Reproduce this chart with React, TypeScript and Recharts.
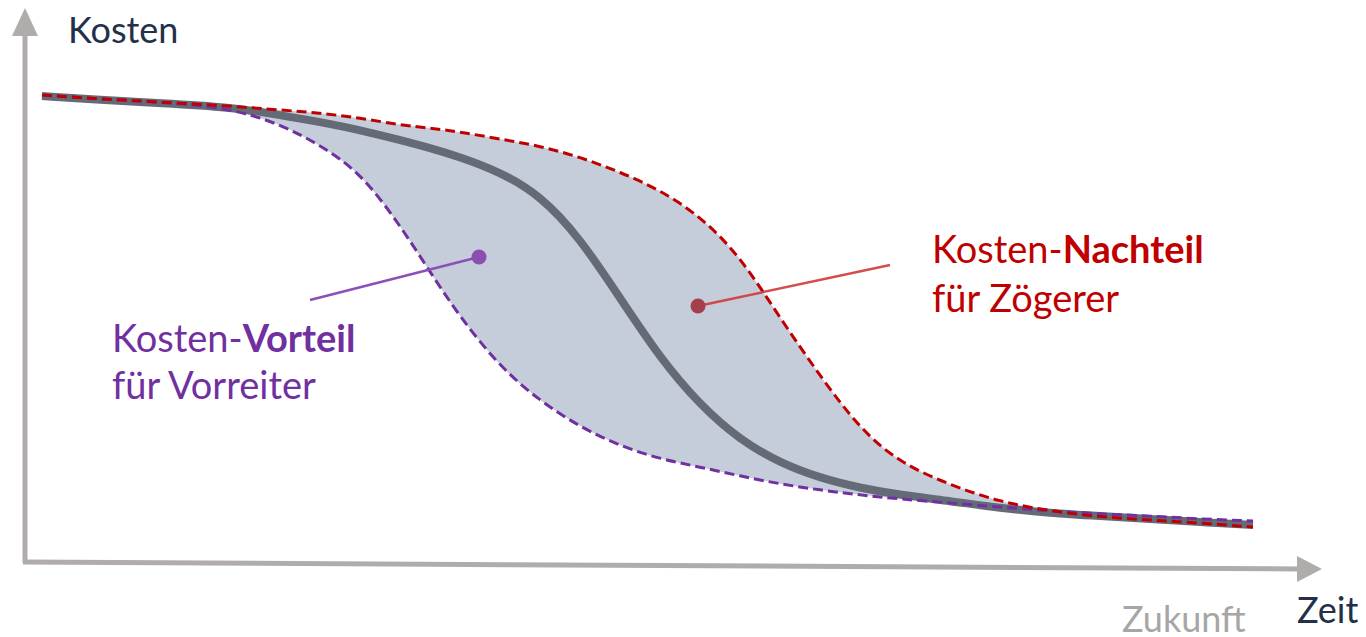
import React from "react";
import {
  ComposedChart,
  Area,
  Line,
  XAxis,
  YAxis,
  ReferenceLine,
  ReferenceDot,
  Customized,
} from "recharts";

// Zeit (time) positions
const zeit = [42, 100, 160, 230, 280, 320, 360, 400, 430, 460, 500, 540, 580, 620, 660, 700, 740, 780, 820, 860, 900, 950, 1000, 1050, 1100, 1150, 1200, 1253];
// Kosten for early adopters (Vorreiter)
const kostenVorreiter = [542, 538, 535, 529, 513, 492, 465, 412, 365, 320, 270, 236, 210, 191, 178, 170, 161, 153, 147, 142, 138, 134, 130, 126, 123, 121, 118, 116];
// Kosten for the average path
const kostenMittel = [541, 537, 534, 530, 522, 515, 507, 497, 489, 480, 465, 442, 399, 339, 279, 232, 197, 174, 159, 149, 142, 136, 129, 124, 121, 118, 115, 112];
// Kosten for laggards (Zögerer)
const kostenZoegerer = [542, 538, 535, 531, 527, 524, 519, 512, 509, 505, 498, 491, 480, 465, 447, 421, 381, 319, 261, 208, 174, 152, 135, 126, 120, 117, 114, 110];

// annotation anchors (x, Kosten)
const vorteilDot = { x: 479, y: 380 };
const vorteilLineStart = { x: 310, y: 337 };
const nachteilDot = { x: 698, y: 331 };
const nachteilLineEnd = { x: 890, y: 372 };

// axis geometry in data units
const yAxisFrom = { x: 25, y: 74 };
const yAxisTo = { x: 25, y: 603 };
const yAxisTip = { x: 25, y: 629 };
const xAxisFrom = { x: 23, y: 75 };
const xAxisTo = { x: 1299, y: 68 };
const xAxisTip = { x: 1322, y: 68 };

const rows = zeit.map((t, i) => ({
  t,
  vorreiter: kostenVorreiter[i],
  mittel: kostenMittel[i],
  zoegerer: kostenZoegerer[i],
  band: [kostenVorreiter[i], kostenZoegerer[i]],
}));

const AXIS = "#b0acab";
const FONT = "Lato, 'Open Sans', sans-serif";

const UpArrow = (props: any) => {
  const { cx, cy } = props;
  return <polygon points={`${cx},${cy} ${cx - 13},${cy + 28} ${cx + 13},${cy + 28}`} fill={AXIS} />;
};
const RightArrow = (props: any) => {
  const { cx, cy } = props;
  return <polygon points={`${cx},${cy} ${cx - 25},${cy - 13} ${cx - 25},${cy + 13}`} fill={AXIS} />;
};

const Texts = () => (
  <g style={{ fontFamily: FONT }}>
    <text x={68} y={43} fontSize={36} fill="#223049">Kosten</text>
    <text x={1297} y={623} fontSize={36} fill="#223049">Zeit</text>
    <text x={1122} y={632} fontSize={36} fill="#a6a6a6">Zukunft</text>
    <text x={112} y={352} fontSize={38} fill="#7030a0">
      Kosten-<tspan fontWeight="bold">Vorteil</tspan>
    </text>
    <text x={112} y={399} fontSize={38} fill="#7030a0">für Vorreiter</text>
    <text x={932} y={263} fontSize={38} fill="#c00000">
      Kosten-<tspan fontWeight="bold">Nachteil</tspan>
    </text>
    <text x={932} y={312} fontSize={38} fill="#c00000">für Zögerer</text>
  </g>
);

export default function App() {
  return (
    <div style={{ position: "absolute", left: 0, top: 0, width: 1366, height: 637, background: "#fff" }}>
      <ComposedChart width={1366} height={637} data={rows} margin={{ top: 0, right: 0, bottom: 0, left: 0 }}>
        <XAxis dataKey="t" type="number" domain={[0, 1366]} hide />
        <YAxis type="number" domain={[0, 637]} hide />
        <Area
          dataKey="band"
          type="basis"
          stroke="none"
          fill="#c6cdda"
          fillOpacity={1}
          isAnimationActive={false}
          activeDot={false}
        />
        <ReferenceLine segment={[yAxisFrom, yAxisTo]} stroke={AXIS} strokeWidth={5} ifOverflow="visible" />
        <ReferenceLine segment={[xAxisFrom, xAxisTo]} stroke={AXIS} strokeWidth={5} ifOverflow="visible" />
        <ReferenceDot x={yAxisTip.x} y={yAxisTip.y} shape={UpArrow} ifOverflow="visible" />
        <ReferenceDot x={xAxisTip.x} y={xAxisTip.y} shape={RightArrow} ifOverflow="visible" />
        <Line
          dataKey="mittel"
          type="basis"
          stroke="#646b77"
          strokeWidth={8}
          dot={false}
          activeDot={false}
          isAnimationActive={false}
        />
        <Line
          dataKey="vorreiter"
          type="basis"
          stroke="#7030a0"
          strokeWidth={3}
          strokeDasharray="10 5"
          dot={false}
          activeDot={false}
          isAnimationActive={false}
        />
        <Line
          dataKey="zoegerer"
          type="basis"
          stroke="#c00000"
          strokeWidth={3}
          strokeDasharray="10 5"
          dot={false}
          activeDot={false}
          isAnimationActive={false}
        />
        <ReferenceLine segment={[vorteilLineStart, vorteilDot]} stroke="#8a4fb8" strokeWidth={2.5} ifOverflow="visible" />
        <ReferenceDot x={vorteilDot.x} y={vorteilDot.y} r={7.5} fill="#8a4fb0" stroke="none" ifOverflow="visible" />
        <ReferenceLine segment={[nachteilDot, nachteilLineEnd]} stroke="#cf3a3a" strokeOpacity={0.9} strokeWidth={2.5} ifOverflow="visible" />
        <ReferenceDot x={nachteilDot.x} y={nachteilDot.y} r={7.5} fill="#a63f4c" stroke="none" ifOverflow="visible" />
        <Customized component={Texts} />
      </ComposedChart>
    </div>
  );
}
